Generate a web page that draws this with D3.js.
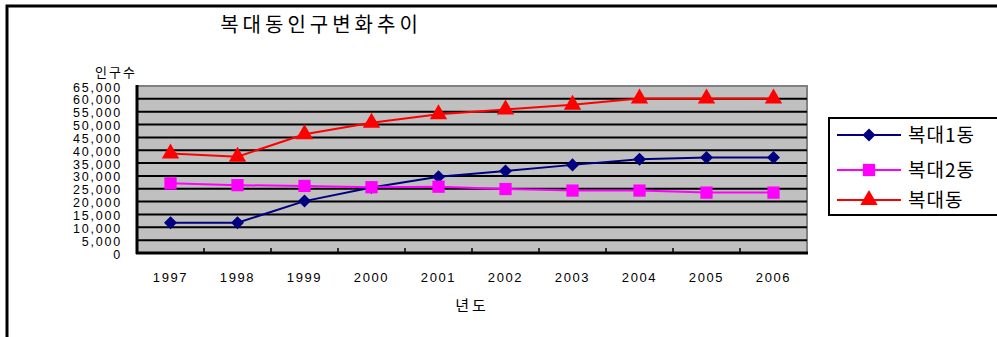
<!DOCTYPE html>
<html>
<head>
<meta charset="utf-8">
<script src="https://cdn.jsdelivr.net/npm/d3@7"></script>
<style>
  body { margin: 0; background: #fff; }
  svg { display: block; }
  .num { font-family: "Liberation Sans", Arial, sans-serif; fill: #000; }
  .kr { font-family: "Noto Sans CJK KR", sans-serif; fill: #000; }
</style>
</head>
<body>
<div id="chart-container"></div>
<script>
// chart data
var years = ["1997", "1998", "1999", "2000", "2001", "2002", "2003", "2004", "2005", "2006"];
var bokdae1 = [11800, 11800, 20200, 25500, 29700, 31900, 34300, 36500, 37200, 37200];
var bokdae2 = [27100, 26400, 26100, 25600, 25800, 24900, 24300, 24300, 23500, 23500];
var bokdae = [38700, 37500, 46200, 50700, 54000, 55900, 57700, 60100, 60100, 60100];
var yTicks = [0, 5000, 10000, 15000, 20000, 25000, 30000, 35000, 40000, 45000, 50000, 55000, 60000, 65000];

var seriesNames = ["복대1동", "복대2동", "복대동"];
var seriesColors = ["#000080", "#ff00ff", "#ff0000"];
var seriesShapes = [d3.symbolSquare, d3.symbolSquare, d3.symbolTriangle];
var seriesRotate = [45, 0, 0];
var symbolSizes = [85, 150, 130];
var seriesValues = [bokdae1, bokdae2, bokdae];

var W = 997, H = 337;
var margin = { top: 86, left: 137 },
  width = 670,
  height = 167;

var svg = d3.select("#chart-container")
  .append("svg")
  .attr("width", W)
  .attr("height", H);

// outer frame (runs off the right/bottom edge)
svg.append("rect")
  .attr("x", 7).attr("y", 6)
  .attr("width", W + 20).attr("height", H + 20)
  .attr("fill", "none")
  .attr("stroke", "#000")
  .attr("stroke-width", 3);

// title
svg.append("text")
  .attr("class", "kr")
  .attr("x", 321).attr("y", 32)
  .attr("text-anchor", "middle")
  .style("font-size", "20px")
  .style("letter-spacing", "4px")
  .text("복대동인구변화추이");

var g = svg.append("g")
  .attr("transform", "translate(" + margin.left + "," + margin.top + ")");

var xScale = d3.scaleBand().domain(years).range([0, width]);
var yScale = d3.scaleLinear().domain([0, 65000]).range([height, 0]);

// plot background
g.append("rect")
  .attr("width", width).attr("height", height)
  .attr("fill", "#c0c0c0")
  .attr("stroke", "#808080")
  .attr("stroke-width", 2);

// gridlines
g.selectAll(".grid")
  .data(yTicks.filter(function(d) { return d > 0 && d < 65000; }))
  .enter()
  .append("line")
  .attr("x1", 0).attr("x2", width)
  .attr("y1", function(d) { return yScale(d); })
  .attr("y2", function(d) { return yScale(d); })
  .attr("stroke", "#000")
  .attr("stroke-width", 2);

// y axis
var yAxis = g.append("g")
  .call(d3.axisLeft(yScale).tickValues(yTicks).tickSize(0).tickPadding(15).tickFormat(d3.format(",")));
yAxis.select(".domain").remove();
yAxis.selectAll("text")
  .attr("class", "num")
  .style("font-size", "12.5px")
  .style("letter-spacing", "1.8px")
  .attr("dy", "0.4em");

// x axis
var xAxis = g.append("g")
  .attr("transform", "translate(0," + height + ")")
  .call(d3.axisBottom(xScale).tickSize(0).tickPadding(20));
xAxis.select(".domain").remove();
xAxis.selectAll("text")
  .attr("class", "num")
  .style("font-size", "13px")
  .style("letter-spacing", "1.6px");

// category ticks (inside, at band edges)
g.selectAll(".xtick")
  .data(years.slice(1))
  .enter()
  .append("line")
  .attr("x1", function(d) { return xScale(d); })
  .attr("x2", function(d) { return xScale(d); })
  .attr("y1", height).attr("y2", height - 5)
  .attr("stroke", "#000")
  .attr("stroke-width", 1.5);

// axis lines
g.append("line").attr("x1", 0).attr("x2", 0).attr("y1", -1).attr("y2", height + 1)
  .attr("stroke", "#000").attr("stroke-width", 3);
g.append("line").attr("x1", -1).attr("x2", width + 1).attr("y1", height).attr("y2", height)
  .attr("stroke", "#000").attr("stroke-width", 3);

// axis titles
svg.append("text")
  .attr("class", "kr")
  .attr("x", 116).attr("y", 77)
  .attr("text-anchor", "middle")
  .style("font-size", "13px")
  .style("letter-spacing", "2px")
  .text("인구수");

svg.append("text")
  .attr("class", "kr")
  .attr("x", 472).attr("y", 311)
  .attr("text-anchor", "middle")
  .style("font-size", "15px")
  .style("letter-spacing", "3px")
  .text("년도");

// series
var line = d3.line()
  .x(function(d, i) { return xScale(years[i]) + xScale.bandwidth() / 2; })
  .y(function(d) { return yScale(d); });

seriesValues.forEach(function(vals, s) {
  g.append("path")
    .datum(vals)
    .attr("d", line)
    .attr("fill", "none")
    .attr("stroke", seriesColors[s])
    .attr("stroke-width", 2);
});

seriesValues.forEach(function(vals, s) {
  g.selectAll(".m" + s)
    .data(vals)
    .enter()
    .append("path")
    .attr("d", d3.symbol().type(seriesShapes[s]).size(symbolSizes[s]))
    .attr("transform", function(d, i) {
      return "translate(" + (xScale(years[i]) + xScale.bandwidth() / 2) + "," + yScale(d) + ") rotate(" + seriesRotate[s] + ")";
    })
    .attr("fill", seriesColors[s]);
});

// legend
var legend = svg.append("g").attr("transform", "translate(829,118)");
legend.append("rect")
  .attr("width", 200).attr("height", 97)
  .attr("fill", "#fff")
  .attr("stroke", "#000")
  .attr("stroke-width", 2);

var legendItems = legend.selectAll(".legend-item")
  .data(seriesNames)
  .enter()
  .append("g")
  .attr("transform", function(d, i) { return "translate(0," + [17, 52, 82][i] + ")"; });

legendItems.append("line")
  .attr("x1", 8).attr("x2", 72)
  .attr("stroke", function(d, i) { return seriesColors[i]; })
  .attr("stroke-width", 2);

legendItems.append("path")
  .attr("d", function(d, i) { return d3.symbol().type(seriesShapes[i]).size(symbolSizes[i])(); })
  .attr("transform", function(d, i) { return "translate(40,0) rotate(" + seriesRotate[i] + ")"; })
  .attr("fill", function(d, i) { return seriesColors[i]; });

legendItems.append("text")
  .attr("class", "kr")
  .attr("x", 79).attr("y", 7)
  .style("font-size", "19px")
  .style("letter-spacing", "1px")
  .text(function(d) { return d; });
</script>
</body>
</html>
